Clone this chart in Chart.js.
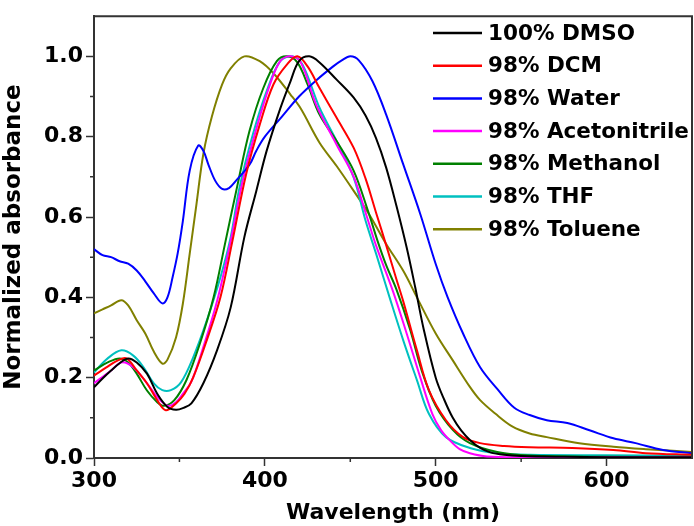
<!DOCTYPE html>
<html>
<head>
<meta charset="utf-8">
<script src="https://cdn.jsdelivr.net/npm/chart.js@4.4.1/dist/chart.umd.min.js"></script>
<style>
  html, body { margin: 0; padding: 0; background: #fff; }
  canvas { display: block; }
</style>
</head>
<body>
<canvas id="uv-chart" width="694" height="526"></canvas>
<script>
// absorption spectra, wavelength (nm) / normalized absorbance
const dmsoNm  = [300, 305, 310, 315, 320, 325, 331, 337, 343, 348, 352, 357, 364, 372, 380, 388, 395, 401, 409, 415, 420, 426, 432, 442, 452, 459, 465, 471, 477, 483, 488, 493, 500, 505, 510, 515, 520, 526, 532, 540, 550, 575, 600, 625, 650];
const dmsoAbs = [0.176, 0.198, 0.218, 0.236, 0.248, 0.238, 0.21, 0.16, 0.127, 0.12, 0.124, 0.136, 0.186, 0.268, 0.375, 0.55, 0.665, 0.764, 0.87, 0.938, 0.988, 1.0, 0.985, 0.942, 0.897, 0.852, 0.797, 0.723, 0.628, 0.524, 0.425, 0.32, 0.2, 0.145, 0.1, 0.068, 0.045, 0.025, 0.014, 0.008, 0.005, 0.003, 0.002, 0.002, 0.002];

const dcmNm  = [300, 307, 314, 319, 325, 331, 337, 342, 348, 353, 358, 366, 374, 381, 389, 397, 405, 413, 419, 425, 432, 442, 452, 459, 465, 471, 477, 481, 489, 496, 506, 516, 526, 540, 555, 580, 604, 623, 650];
const dcmAbs = [0.205, 0.225, 0.243, 0.248, 0.218, 0.186, 0.144, 0.119, 0.136, 0.16, 0.2, 0.293, 0.4, 0.54, 0.706, 0.83, 0.93, 0.98, 1.0, 0.975, 0.921, 0.847, 0.772, 0.695, 0.612, 0.53, 0.445, 0.39, 0.268, 0.169, 0.094, 0.052, 0.037, 0.03, 0.027, 0.025, 0.02, 0.012, 0.008];

const waterNm  = [300, 305, 310, 315, 320, 325, 330, 335, 340, 343, 346, 349, 352, 356, 361, 364, 367, 371, 375, 379, 383, 391, 395, 400, 410, 420, 430, 440, 445, 450, 455, 463, 471, 481, 491, 500, 507, 516, 526, 536, 546, 555, 565, 577, 590, 604, 617, 633, 650];
const waterAbs = [0.52, 0.505, 0.5, 0.49, 0.484, 0.467, 0.44, 0.41, 0.385, 0.40, 0.45, 0.51, 0.59, 0.715, 0.778, 0.765, 0.73, 0.69, 0.67, 0.672, 0.69, 0.73, 0.765, 0.8, 0.85, 0.9, 0.94, 0.975, 0.99, 1.0, 0.99, 0.938, 0.855, 0.731, 0.607, 0.483, 0.40, 0.31, 0.226, 0.172, 0.125, 0.107, 0.094, 0.087, 0.069, 0.049, 0.037, 0.02, 0.012];

const acnNm  = [300, 310, 316, 323, 331, 337, 343, 348, 352, 357, 364, 372, 380, 387, 395, 403, 409, 415, 421, 430, 442, 452, 459, 465, 475, 483, 491, 498, 503, 508, 514, 520, 530, 550, 600, 650];
const acnAbs = [0.186, 0.218, 0.238, 0.226, 0.186, 0.152, 0.13, 0.139, 0.16, 0.19, 0.276, 0.39, 0.54, 0.69, 0.82, 0.93, 0.988, 1.0, 0.985, 0.88, 0.78, 0.70, 0.61, 0.53, 0.415, 0.31, 0.2, 0.11, 0.07, 0.045, 0.022, 0.012, 0.004, 0.002, 0.002, 0.002];

const meohNm  = [300, 308, 315, 320, 325, 331, 337, 341, 347, 354, 362, 370, 377, 384, 391, 399, 407, 413, 419, 425, 432, 442, 452, 460, 466, 471, 477, 485, 492, 500, 510, 520, 536, 555, 600, 650];
const meohAbs = [0.218, 0.238, 0.248, 0.238, 0.21, 0.168, 0.139, 0.13, 0.144, 0.193, 0.285, 0.4, 0.54, 0.68, 0.814, 0.92, 0.988, 1.0, 0.985, 0.93, 0.855, 0.789, 0.715, 0.62, 0.54, 0.48, 0.42, 0.32, 0.215, 0.13, 0.07, 0.037, 0.015, 0.006, 0.003, 0.003];

const thfNm  = [300, 308, 316, 323, 329, 335, 340, 345, 351, 358, 366, 374, 380, 385, 393, 401, 409, 416, 422, 432, 442, 452, 459, 465, 473, 481, 489, 496, 506, 520, 536, 555, 600, 650];
const thfAbs = [0.213, 0.248, 0.268, 0.255, 0.226, 0.186, 0.169, 0.169, 0.189, 0.25, 0.342, 0.45, 0.55, 0.67, 0.806, 0.913, 0.988, 1.0, 0.98, 0.872, 0.789, 0.698, 0.59, 0.51, 0.40, 0.293, 0.194, 0.11, 0.052, 0.025, 0.012, 0.008, 0.007, 0.006];

const tolNm  = [300, 305, 310, 316, 320, 325, 330, 335, 340, 343, 348, 352, 356, 360, 364, 369, 375, 380, 388, 397, 405, 415, 421, 432, 442, 452, 461, 471, 481, 489, 500, 510, 520, 526, 535, 545, 555, 565, 584, 604, 623, 650];
const tolAbs = [0.36, 0.37, 0.38, 0.393, 0.38, 0.343, 0.31, 0.265, 0.235, 0.245, 0.30, 0.384, 0.508, 0.633, 0.757, 0.85, 0.93, 0.97, 1.0, 0.988, 0.958, 0.905, 0.87, 0.785, 0.727, 0.665, 0.607, 0.533, 0.466, 0.40, 0.31, 0.243, 0.177, 0.144, 0.11, 0.078, 0.061, 0.052, 0.037, 0.028, 0.022, 0.015];

const seriesLabels = ['100% DMSO', '98% DCM', '98% Water', '98% Acetonitrile', '98% Methanol', '98% THF', '98% Toluene'];
const seriesColors = ['#000000', '#ff0000', '#0000ff', '#ff00ff', '#008000', '#00c0c0', '#808000'];
const seriesNm  = [dmsoNm, dcmNm, waterNm, acnNm, meohNm, thfNm, tolNm];
const seriesAbs = [dmsoAbs, dcmAbs, waterAbs, acnAbs, meohAbs, thfAbs, tolAbs];

const FONT = 'DejaVu Sans';
const AXIS = '#333333';

// box around plot + short minor ticks
const frame = {
  id: 'frame',
  afterDraw(chart) {
    const { ctx, chartArea: a, scales } = chart;
    ctx.save();
    ctx.strokeStyle = AXIS;
    ctx.lineWidth = 2;
    ctx.beginPath();
    ctx.moveTo(a.left, a.top);
    ctx.lineTo(a.right, a.top);
    ctx.lineTo(a.right, a.bottom);
    ctx.stroke();

    ctx.lineWidth = 1.5;
    ctx.beginPath();
    for (let v = 350; v < 650; v += 100) {
      const x = scales.x.getPixelForValue(v);
      ctx.moveTo(x, a.bottom);
      ctx.lineTo(x, a.bottom + 4);
    }
    for (let k = 1; k <= 9; k += 2) {
      const y = scales.y.getPixelForValue(k / 10);
      ctx.moveTo(a.left, y);
      ctx.lineTo(a.left - 4, y);
    }
    ctx.stroke();
    ctx.restore();
  }
};

// legend list in the upper right corner of the plot
const sideLegend = {
  id: 'sideLegend',
  afterDraw(chart) {
    const ctx = chart.ctx;
    ctx.save();
    ctx.font = 'bold 21.5px "' + FONT + '"';
    ctx.textBaseline = 'middle';
    ctx.fillStyle = '#000';
    chart.data.datasets.forEach((ds, i) => {
      const y = 33 + i * 32.7;
      ctx.strokeStyle = ds.borderColor;
      ctx.lineWidth = 2.5;
      ctx.beginPath();
      ctx.moveTo(433, y);
      ctx.lineTo(482, y);
      ctx.stroke();
      ctx.fillText(ds.label, 488, y + 1);
    });
    ctx.restore();
  }
};

new Chart(document.getElementById('uv-chart').getContext('2d'), {
  type: 'line',
  data: {
    datasets: seriesLabels.map((label, i) => ({
      label: label,
      data: seriesNm[i].map((nm, j) => ({ x: nm, y: seriesAbs[i][j] })),
      borderColor: seriesColors[i],
      backgroundColor: seriesColors[i],
      borderWidth: 2,
      pointRadius: 0,
      tension: 0.35,
      fill: false
    }))
  },
  options: {
    responsive: false,
    animation: false,
    layout: { padding: { top: 15, right: 2, left: 0, bottom: 0 } },
    plugins: { legend: { display: false }, tooltip: { enabled: false } },
    scales: {
      x: {
        type: 'linear',
        min: 300,
        max: 650,
        afterFit(scale) { scale.height = 68; },
        ticks: {
          stepSize: 50,
          autoSkip: false,
          maxRotation: 0,
          padding: 2,
          color: '#000',
          font: { family: FONT, size: 22, weight: 'bold' },
          callback: v => (v % 100 === 0 ? v : '')
        },
        grid: {
          drawOnChartArea: false,
          tickLength: 8,
          tickWidth: 1.5,
          tickColor: c => (c.tick && c.tick.value % 100 === 0 ? AXIS : 'rgba(0,0,0,0)')
        },
        border: { color: AXIS, width: 2 },
        title: {
          display: true,
          text: 'Wavelength (nm)',
          color: '#000',
          padding: { top: 0, bottom: 0 },
          font: { family: FONT, size: 22, weight: 'bold' }
        }
      },
      y: {
        min: 0,
        max: 1.1,
        afterFit(scale) { scale.width = 94; },
        ticks: {
          stepSize: 0.1,
          autoSkip: false,
          padding: 3,
          color: '#000',
          font: { family: FONT, size: 22, weight: 'bold' },
          callback: v => {
            const k = Math.round(v * 10);
            return k % 2 === 0 ? (k / 10).toFixed(1) : '';
          }
        },
        grid: {
          drawOnChartArea: false,
          tickLength: 8,
          tickWidth: 1.5,
          tickColor: c => (c.tick && Math.round(c.tick.value * 10) % 2 === 0 ? AXIS : 'rgba(0,0,0,0)')
        },
        border: { color: AXIS, width: 2 },
        title: {
          display: true,
          text: 'Normalized absorbance',
          color: '#000',
          padding: { top: 0, bottom: 4 },
          font: { family: FONT, size: 23, weight: 'bold' }
        }
      }
    }
  },
  plugins: [frame, sideLegend]
});
</script>
</body>
</html>
